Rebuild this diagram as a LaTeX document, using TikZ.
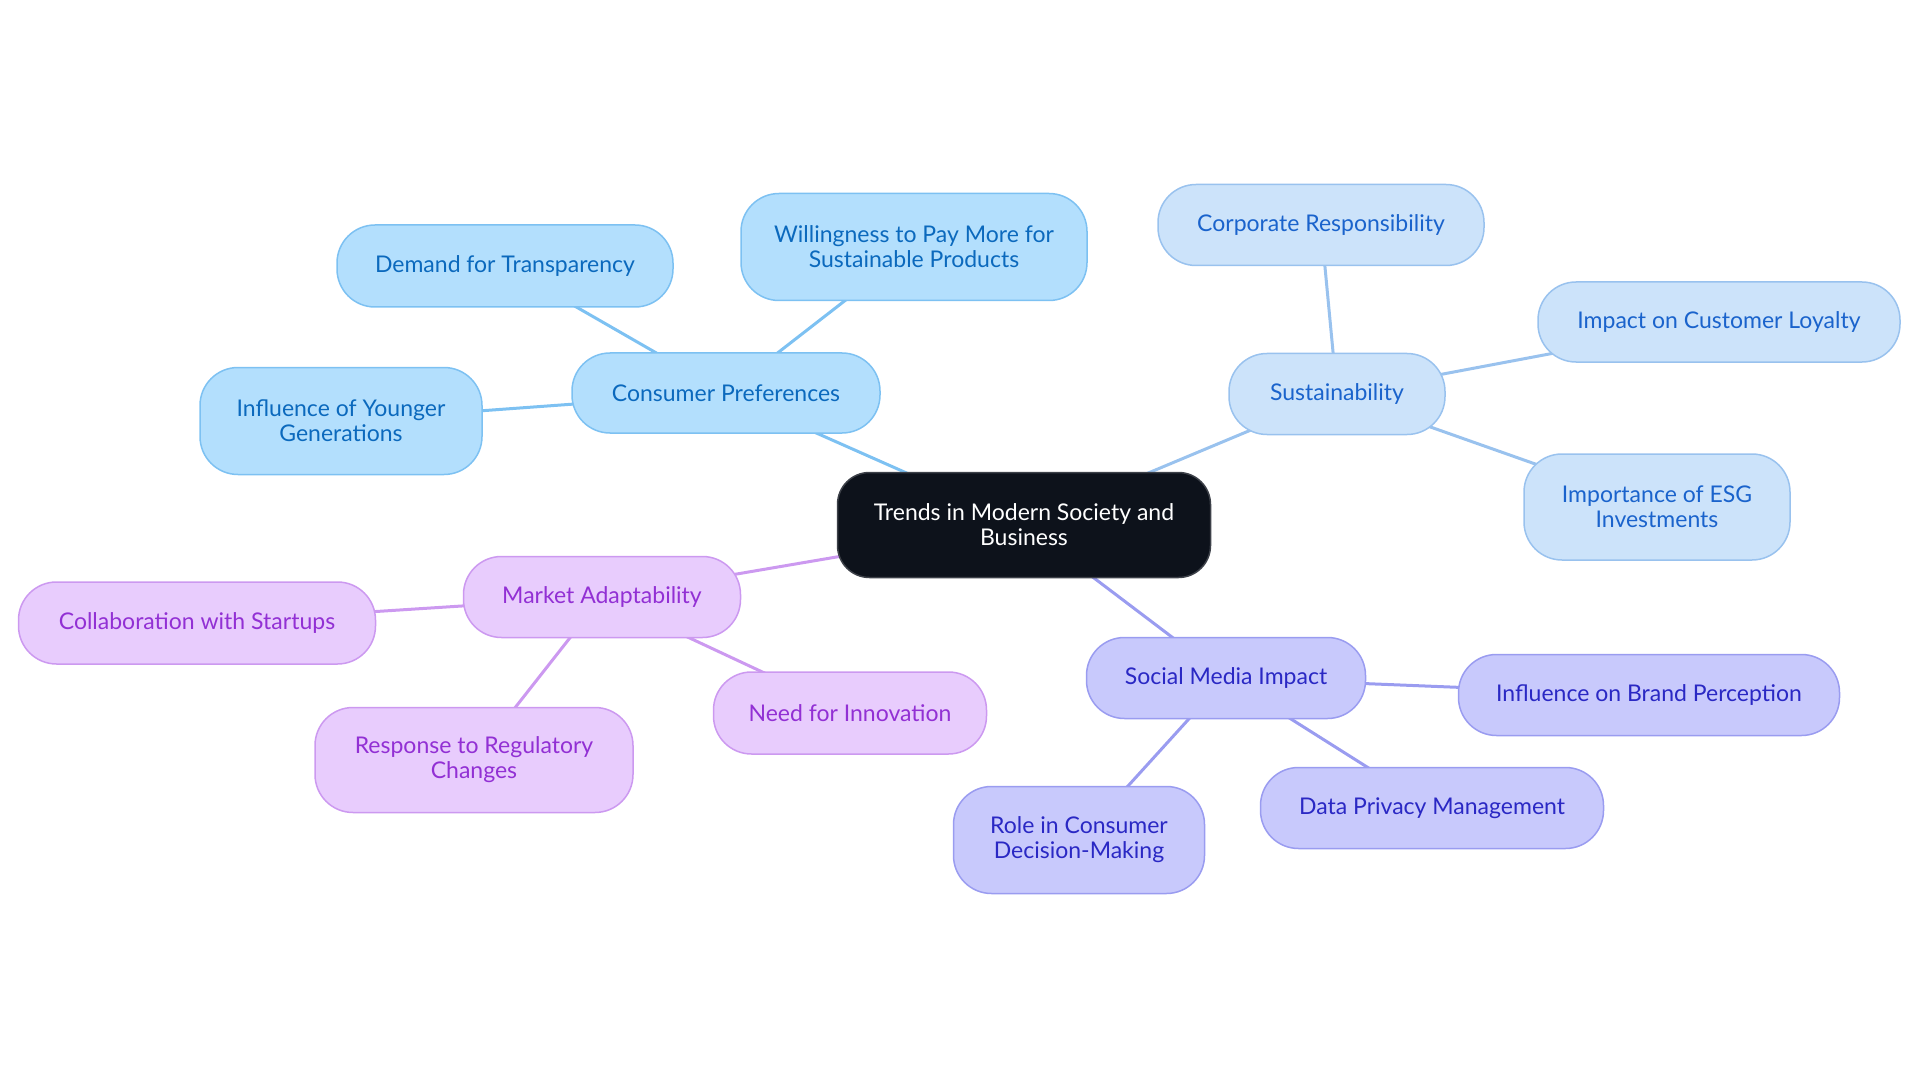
\documentclass[tikz,border=0pt]{standalone}
\usepackage{fontspec}
\setmainfont{Lato}
\usetikzlibrary{backgrounds}
\definecolor{cpfill}{HTML}{B3DFFD}\definecolor{cpline}{HTML}{7DC1F2}\definecolor{cptext}{HTML}{0B69BD}
\definecolor{sufill}{HTML}{CCE3FA}\definecolor{suline}{HTML}{99C2EE}\definecolor{sutext}{HTML}{1A63CC}
\definecolor{smfill}{HTML}{C8C9FC}\definecolor{smline}{HTML}{9A9CF0}\definecolor{smtext}{HTML}{2A28C4}
\definecolor{mafill}{HTML}{E8CCFD}\definecolor{maline}{HTML}{CC99F0}\definecolor{matext}{HTML}{9230D4}
\definecolor{rootfill}{HTML}{0D121B}
\tikzset{
  x=1pt,y=-1pt,
  box/.style={rounded corners=38pt,line width=1.5pt,align=center,inner sep=0pt,
    font=\fontsize{23}{25}\selectfont},
  cpbox/.style={box,fill=cpfill,draw=cpline,text=cptext},
  subox/.style={box,fill=sufill,draw=suline,text=sutext},
  smbox/.style={box,fill=smfill,draw=smline,text=smtext},
  mabox/.style={box,fill=mafill,draw=maline,text=matext},
  rootbox/.style={box,rounded corners=32pt,fill=rootfill,draw=rootfill!80!white,text=white},
  link/.style={line width=3pt},
}
\begin{document}
\begin{tikzpicture}
\useasboundingbox (0,0) rectangle (1920,1083);
\node[rootbox,minimum width=373pt,minimum height=105pt] (root) at (1024,525) {Trends in Modern Society and\\Business};
% Consumer Preferences
\node[cpbox,minimum width=308pt,minimum height=80pt] (cp) at (726,393) {Consumer Preferences};
\node[cpbox,minimum width=336pt,minimum height=82pt] (cp1) at (505,266) {Demand for Transparency};
\node[cpbox,minimum width=346pt,minimum height=107pt] (cp2) at (914,247) {Willingness to Pay More for\\Sustainable Products};
\node[cpbox,minimum width=282pt,minimum height=107pt] (cp3) at (341,421) {Influence of Younger\\Generations};
% Sustainability
\node[subox,minimum width=216pt,minimum height=81pt] (su) at (1337,394) {Sustainability};
\node[subox,minimum width=326pt,minimum height=81pt] (su1) at (1321,225) {Corporate Responsibility};
\node[subox,minimum width=362pt,minimum height=80pt] (su2) at (1719,322) {Impact on Customer Loyalty};
\node[subox,minimum width=266pt,minimum height=106pt] (su3) at (1657,507) {Importance of ESG\\Investments};
% Market Adaptability
\node[mabox,minimum width=277pt,minimum height=81pt] (ma) at (602,597) {Market Adaptability};
\node[mabox,minimum width=357pt,minimum height=82pt] (ma1) at (197,623) {Collaboration with Startups};
\node[mabox,minimum width=318pt,minimum height=105pt] (ma2) at (474,760) {Response to Regulatory\\Changes};
\node[mabox,minimum width=273pt,minimum height=82pt] (ma3) at (850,713) {Need for Innovation};
% Social Media Impact
\node[smbox,minimum width=279pt,minimum height=81pt] (sm) at (1226,678) {Social Media Impact};
\node[smbox,minimum width=381pt,minimum height=81pt] (sm1) at (1649,695) {Influence on Brand Perception};
\node[smbox,minimum width=343pt,minimum height=81pt] (sm2) at (1432,808) {Data Privacy Management};
\node[smbox,minimum width=251pt,minimum height=107pt] (sm3) at (1079,840) {Role in Consumer\\Decision-Making};
\begin{scope}[on background layer]
\draw[link,cpline] (root.center) -- (cp.center);
\draw[link,cpline] (cp.center) -- (cp1.center);
\draw[link,cpline] (cp.center) -- (cp2.center);
\draw[link,cpline] (cp.center) -- (cp3.center);
\draw[link,suline] (root.center) -- (su.center);
\draw[link,suline] (su.center) -- (su1.center);
\draw[link,suline] (su.center) -- (su2.center);
\draw[link,suline] (su.center) -- (su3.center);
\draw[link,maline] (root.center) -- (ma.center);
\draw[link,maline] (ma.center) -- (ma1.center);
\draw[link,maline] (ma.center) -- (ma2.center);
\draw[link,maline] (ma.center) -- (ma3.center);
\draw[link,smline] (root.center) -- (sm.center);
\draw[link,smline] (sm.center) -- (sm1.center);
\draw[link,smline] (sm.center) -- (sm2.center);
\draw[link,smline] (sm.center) -- (sm3.center);
\end{scope}
\end{tikzpicture}
\end{document}
